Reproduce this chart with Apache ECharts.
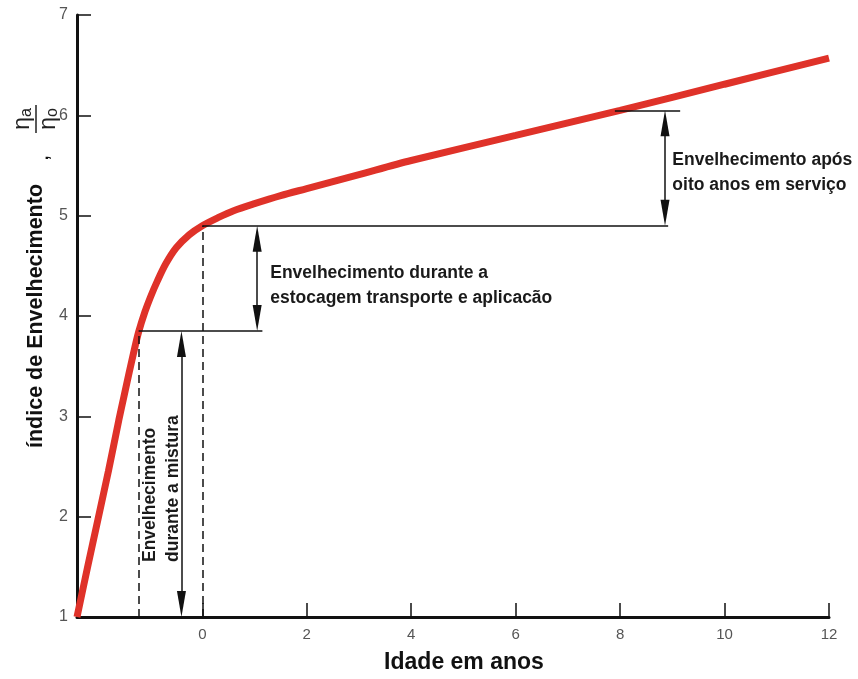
<!DOCTYPE html>
<html>
<head>
<meta charset="utf-8">
<script src="https://cdn.jsdelivr.net/npm/echarts@6/dist/echarts.min.js"></script>
<style>
  html, body { margin: 0; padding: 0; background: #fff; }
  #chart { width: 858px; height: 679px; }
</style>
</head>
<body>
<div id="chart"></div>
<script>
// aging curve (years vs. eta_a / eta_o)
const ageYears = [-2.4, -2.2, -2.0, -1.8, -1.6, -1.5, -1.4, -1.3, -1.22, -1.1, -1.0, -0.86, -0.7, -0.5, -0.25, 0, 0.3, 0.6, 1, 1.5, 2, 3, 4, 6, 8, 10, 12]
const agingIndex = [1.0, 1.49, 1.97, 2.45, 2.96, 3.2, 3.44, 3.67, 3.84, 4.04, 4.18, 4.35, 4.52, 4.68, 4.81, 4.9, 4.98, 5.05, 5.12, 5.2, 5.27, 5.41, 5.55, 5.8, 6.05, 6.31, 6.57]
const xTicks = [0, 2, 4, 6, 8, 10, 12]

// annotation anchors (data units)
const mixPoint = [-1.22, 3.85]
const applyPoint = [0, 4.9]
const servicePoint = [7.9, 6.05]
const mixArrowX = -0.4
const applyArrowX = 1.05
const serviceArrowX = 8.86
const mixLineEnd = 1.15
const applyLineEnd = 8.92
const serviceLineEnd = 9.15
const arrowInset = 0.13 // half an arrow head, so the tip sits on the line

const chart = echarts.init(document.getElementById('chart'))

const black = '#111'
const dashed = { color: black, width: 1.5, type: [8, 5] }
const solid = { color: black, width: 1.5, type: 'solid' }

function seg(a, b, style) {
  return [
    { coord: a, symbol: 'none', lineStyle: style },
    { coord: b, symbol: 'none' }
  ]
}

function arrow(x, y0, y1) {
  return [
    { coord: [x, y0 + arrowInset], symbol: 'triangle', lineStyle: solid },
    { coord: [x, y1 - arrowInset], symbol: 'triangle' }
  ]
}

chart.setOption({
  animation: false,
  grid: { left: 77, right: 29, top: 15, bottom: 61 },
  xAxis: {
    type: 'value',
    min: -2.4,
    max: 12,
    name: 'Idade em anos',
    nameLocation: 'middle',
    nameGap: 34,
    nameTextStyle: { fontFamily: 'Liberation Sans', fontWeight: 'bold', fontSize: 23, color: black, padding: [0, 0, 0, 22] },
    splitLine: { show: false },
    axisLine: { lineStyle: { color: black, width: 3 } },
    axisTick: { inside: true, length: 14, customValues: xTicks, lineStyle: { color: black, width: 1.5 } },
    axisLabel: { customValues: xTicks, margin: 10, fontFamily: 'Liberation Sans', fontSize: 15, color: '#555' }
  },
  yAxis: {
    type: 'value',
    min: 1,
    max: 7,
    interval: 1,
    name: 'índice de Envelhecimento',
    nameLocation: 'middle',
    nameRotate: 90,
    nameGap: 30,
    nameTextStyle: { fontFamily: 'Liberation Sans', fontWeight: 'bold', fontSize: 21.5, color: black },
    splitLine: { show: false },
    axisLine: { show: true, onZero: false, lineStyle: { color: black, width: 3 } },
    axisTick: { inside: true, length: 14, lineStyle: { color: black, width: 1.5 } },
    axisLabel: { margin: 9, fontFamily: 'Liberation Sans', fontSize: 16, color: '#555' }
  },
  series: [
    {
      type: 'line',
      data: ageYears.map((x, i) => [x, agingIndex[i]]),
      smooth: 0.3,
      showSymbol: false,
      lineStyle: { color: '#df3229', width: 7 },
      z: 3
    },
    {
      type: 'line',
      data: [],
      z: 2,
      markLine: {
        silent: true,
        symbolSize: [9, 26],
        label: { show: false },
        data: [
          seg([mixPoint[0], 1], mixPoint, dashed),
          seg([applyPoint[0], 1], applyPoint, dashed),
          seg(mixPoint, [mixLineEnd, mixPoint[1]], solid),
          seg(applyPoint, [applyLineEnd, applyPoint[1]], solid),
          seg(servicePoint, [serviceLineEnd, servicePoint[1]], solid),
          arrow(mixArrowX, 1, mixPoint[1]),
          arrow(applyArrowX, mixPoint[1], applyPoint[1]),
          arrow(serviceArrowX, applyPoint[1], servicePoint[1])
        ]
      }
    }
  ]
})

// text annotations placed from data coordinates
const px = p => chart.convertToPixel({ gridIndex: 0 }, p)
const noteFont = { fontFamily: 'Liberation Sans', fontWeight: 'bold', fontSize: 17.5, fill: '#1a1a1a', lineHeight: 25 }
const applyText = px([1.3, 4.305])
const serviceText = px([9.0, 5.43])
const mixText = px([-0.77, 0.56])
const etaRich = {
  e: { fontFamily: 'Liberation Sans', fontSize: 23, fill: '#222' },
  s: { fontFamily: 'Liberation Sans', fontSize: 16, fill: '#222', verticalAlign: 'bottom' }
}

chart.setOption({
  graphic: [
    {
      type: 'text', x: applyText[0], y: applyText[1],
      style: Object.assign({ text: 'Envelhecimento durante a\nestocagem transporte e aplicacão', align: 'left', verticalAlign: 'middle' }, noteFont)
    },
    {
      type: 'text', x: serviceText[0], y: serviceText[1],
      style: Object.assign({ text: 'Envelhecimento após\noito anos em serviço', align: 'left', verticalAlign: 'middle' }, noteFont)
    },
    {
      type: 'text', x: mixText[0], y: 562, rotation: Math.PI / 2,
      style: Object.assign({ text: 'Envelhecimento\ndurante a mistura', align: 'left', verticalAlign: 'middle' }, noteFont, { lineHeight: 23 })
    },
    {
      type: 'group', x: 36, y: 119, rotation: Math.PI / 2,
      children: [
        { type: 'text', x: 0, y: -13, style: { text: '{e|η}{s|a}', align: 'center', verticalAlign: 'middle', rich: etaRich } },
        { type: 'line', shape: { x1: -14, y1: 0, x2: 14, y2: 0 }, style: { stroke: '#222', lineWidth: 1.5 } },
        { type: 'text', x: 0, y: 13, style: { text: '{e|η}{s|o}', align: 'center', verticalAlign: 'middle', rich: etaRich } }
      ]
    },
    {
      type: 'text', x: 42, y: 158, rotation: Math.PI / 2,
      style: { text: ',', fontFamily: 'Liberation Sans', fontSize: 22, fill: black, align: 'center', verticalAlign: 'middle' }
    }
  ]
})
</script>
</body>
</html>
